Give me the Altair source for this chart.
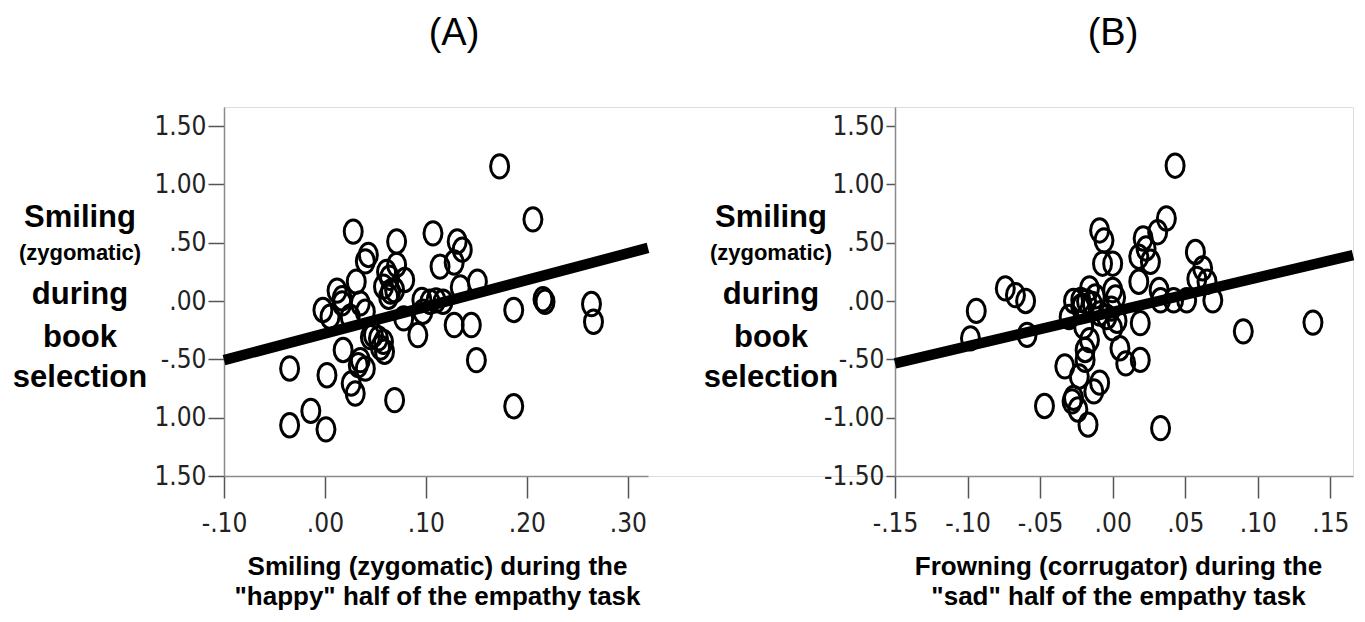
import altair as alt
import pandas as pd

# ---------------- data ----------------
a_x = [0.173, 0.206, 0.028, 0.107, 0.071, 0.131, 0.136, 0.043, 0.040, 0.128,
       0.114, 0.071, 0.061, 0.079, 0.031, 0.151, 0.134, 0.058, 0.012, 0.017,
       0.063, 0.017, -0.002, 0.005, 0.040, 0.025, 0.096, 0.104, 0.117, 0.097,
       0.078, 0.128, 0.145, 0.092, 0.048, 0.053, 0.058, 0.059, 0.045, 0.018,
       0.035, 0.033, -0.035, 0.002, 0.026, 0.030, 0.150, 0.069, 0.187, -0.014,
       -0.035, 0.001, 0.187, 0.216, 0.218, 0.264, 0.266, 0.064, 0.035, 0.055,
       0.040, 0.110, 0.065, 0.069]
a_y = [1.154, 0.700, 0.595, 0.580, 0.510, 0.510, 0.440, 0.395, 0.340, 0.330,
       0.295, 0.310, 0.250, 0.180, 0.166, 0.166, 0.117, 0.123, 0.089, 0.023,
       0.037, -0.020, -0.077, -0.135, -0.092, -0.135, 0.009, -0.006, -0.006, -0.092,
       -0.149, -0.206, -0.206, -0.292, -0.292, -0.320, -0.350, -0.435, -0.310, -0.420,
       -0.507, -0.550, -0.578, -0.636, -0.707, -0.793, -0.507, -0.850, -0.902, -0.942,
       -1.065, -1.100, -0.077, 0.015, -0.006, -0.026, -0.178, 0.200, -0.020, -0.400,
       -0.580, 0.005, 0.080, 0.094]

b_x = [0.043, 0.037, 0.031, -0.009, -0.006, 0.021, 0.023, 0.018, 0.026, -0.007,
       0.000, 0.057, 0.062, 0.058, 0.065, 0.018, 0.032, 0.000, -0.016, 0.033,
       0.042, 0.051, 0.069, -0.027, -0.022, -0.018, -0.021, -0.014, 0.002, -0.030,
       -0.009, -0.001, -0.004, 0.019, 0.000, -0.020, -0.016, 0.005, -0.019, -0.019,
       0.009, 0.019, -0.033, -0.023, -0.009, -0.013, -0.027, -0.024, -0.017, -0.047,
       0.033, 0.090, 0.138, -0.074, -0.067, -0.060, -0.059, -0.094, -0.098, -0.022,
       -0.012, 0.003, -0.028]
b_y = [1.160, 0.707, 0.590, 0.605, 0.520, 0.536, 0.450, 0.380, 0.336, 0.320,
       0.320, 0.420, 0.280, 0.190, 0.165, 0.165, 0.094, 0.094, 0.108, 0.006,
       0.006, 0.006, 0.006, 0.000, 0.010, -0.005, -0.040, -0.025, 0.030, -0.137,
       -0.107, -0.065, -0.137, -0.190, -0.235, -0.220, -0.335, -0.405, -0.420, -0.505,
       -0.535, -0.505, -0.560, -0.647, -0.700, -0.775, -0.830, -0.930, -1.060, -0.900,
       -1.090, -0.260, -0.185, 0.108, 0.050, 0.000, -0.290, -0.085, -0.320, -0.050,
       0.040, -0.170, -0.860]

# fit lines (end points)
a_fit_x = [-0.10, 0.32]
a_fit_y = [-0.507, 0.455]
b_fit_x = [-0.15, 0.1656]
b_fit_y = [-0.535, 0.394]

a_xticks = [-0.10, 0.0, 0.10, 0.20, 0.30]
b_xticks = [-0.15, -0.10, -0.05, 0.0, 0.05, 0.10, 0.15]
y_ticks = [-1.5, -1.0, -0.5, 0.0, 0.5, 1.0, 1.5]

a_xtitle = ["Smiling (zygomatic) during the", "\"happy\" half of the empathy task"]
b_xtitle = ["Frowning (corrugator) during the", "\"sad\" half of the empathy task"]
ytitle_lines = ["Smiling", "(zygomatic)", "during", "book", "selection"]
panel_titles = ["(A)", "(B)"]

# ---------------- layout / styling ----------------
BOLD = "Liberation Sans, Arial, sans-serif"
NARROW = "DejaVu Sans Condensed, Liberation Sans Narrow, sans-serif"
ELLIPSE = ("M1,0C1,0.718,0.5523,1.3,0,1.3C-0.5523,1.3,-1,0.718,-1,0"
           "C-1,-0.718,-0.5523,-1.3,0,-1.3C0.5523,-1.3,1,-0.718,1,0Z")
W_TOTAL = 1129          # from left edge of panel A to right edge of panel B
H = 369
A_RANGE = [0, 424]
B_RANGE = [671, 1129]
Y_DOMAIN = [-1.5, 1.663]
ytitle_sizes = [31, 22, 31, 31, 31]
ytitle_base = [120, 153, 197, 240, 280]


def fmt(strip_neg=False):
    base = "replace(replace(format(datum.value, '.2f'), '0.', '.'), '\u2212', '-')"
    if strip_neg:
        return ("datum.value <= -1 ? replace(format(-datum.value, '.2f'), '0.', '.') : "
                + base)
    return base


def panel(xs, ys, fx, fy, xdom, xrange, xticks, xtitle, title_x, ytick_size,
          y_offset, strip_neg):
    pts = pd.DataFrame({"x": xs, "y": ys})
    fit = pd.DataFrame({"x": fx, "y": fy})
    xscale = alt.Scale(domain=xdom, range=xrange, nice=False, zero=False)
    yscale = alt.Scale(domain=Y_DOMAIN, nice=False, zero=False)
    xaxis = alt.Axis(values=xticks, labelExpr=fmt(), title=xtitle, orient="bottom",
                     grid=False, tickSize=22, tickWidth=1.5, tickColor="#555555",
                     domainColor="#8a8a8a", domainWidth=1.5,
                     labelFont=NARROW, labelFontSize=26, labelColor="#222222",
                     labelPadding=12, labelFlush=False, labelOverlap=False,
                     titleFont=BOLD, titleFontSize=26,
                     titleFontWeight="bold", titleColor="#000000",
                     titleLineHeight=30, titlePadding=17, titleX=title_x,
                     titleAlign="center")
    yaxis = alt.Axis(values=y_ticks, labelExpr=fmt(strip_neg), title=None,
                     orient="left", offset=y_offset,
                     grid=False, tickSize=ytick_size, tickWidth=1.5,
                     tickColor="#555555", domainColor="#8a8a8a", domainWidth=1.5,
                     labelFont=NARROW, labelFontSize=26, labelColor="#222222",
                     labelPadding=2, labelFlush=False, labelOverlap=False)
    points = alt.Chart(pts).mark_point(
        shape=ELLIPSE, size=324, filled=False, stroke="#000000",
        strokeWidth=3, opacity=1
    ).encode(
        x=alt.X("x:Q", scale=xscale, axis=xaxis),
        y=alt.Y("y:Q", scale=yscale, axis=yaxis),
    )
    line = alt.Chart(fit).mark_line(color="#000000", strokeWidth=10.5).encode(
        x=alt.X("x:Q", scale=xscale, axis=xaxis),
        y=alt.Y("y:Q", scale=yscale, axis=yaxis))
    return alt.layer(points, line)


def texts(title_cx, top_title, top_cx):
    one = pd.DataFrame({"k": [0]})
    out = []
    for txt, sz, base in zip(ytitle_lines, ytitle_sizes, ytitle_base):
        out.append(alt.Chart(one).mark_text(
            text=txt, font=BOLD, fontSize=sz, fontWeight="bold", color="#000000",
            align="center", baseline="alphabetic"
        ).encode(x=alt.value(title_cx), y=alt.value(base)))
    out.append(alt.Chart(one).mark_text(
        text=top_title, font=BOLD, fontSize=38, color="#000000",
        align="center", baseline="alphabetic"
    ).encode(x=alt.value(top_cx), y=alt.value(-62)))
    return out


pa = panel(a_x, a_y, a_fit_x, a_fit_y, [-0.10, 0.32], A_RANGE, a_xticks, a_xtitle,
           213, 16, 0, True)
pb = panel(b_x, b_y, b_fit_x, b_fit_y, [-0.15, 0.1656], B_RANGE, b_xticks, b_xtitle,
           894, 9, -B_RANGE[0], False)

layers = [pa, pb] + texts(-144, panel_titles[0], 230) + texts(547, panel_titles[1], 889)

chart = alt.layer(*layers).resolve_scale(
    x="independent", y="independent"
).properties(
    width=W_TOTAL, height=H,
    autosize=alt.AutoSizeParams(type="none"),
    padding={"left": 216, "top": 99, "right": 4, "bottom": 134},
).configure_view(stroke="transparent", strokeWidth=0).configure(background="#ffffff")

chart.save("out.html", embed_options={"renderer": "svg", "actions": False})
